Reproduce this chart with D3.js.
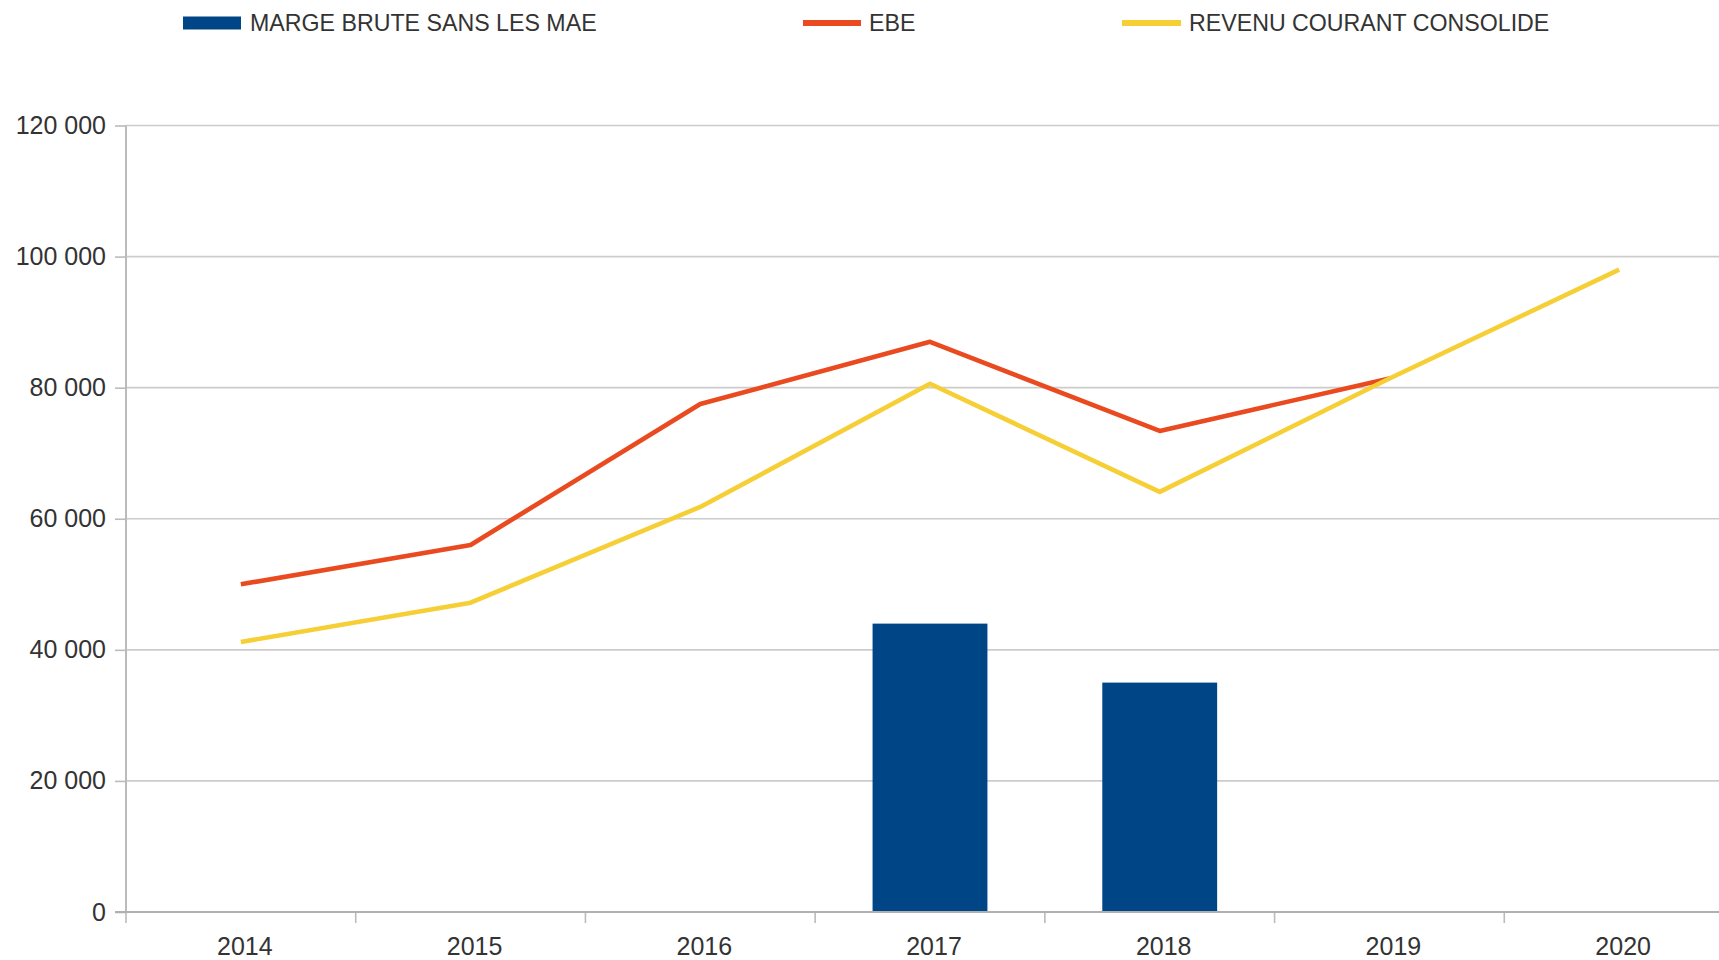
<!DOCTYPE html>
<html>
<head>
<meta charset="utf-8">
<script src="https://cdn.jsdelivr.net/npm/d3@7"></script>
<style>
  html, body { margin: 0; padding: 0; background: #fff; overflow: hidden; }
  svg { display: block; font-family: "Liberation Sans", Arial, sans-serif; }
</style>
</head>
<body>
<svg id="chart" width="1719" height="960"></svg>
<script>
const categories = ["2014", "2015", "2016", "2017", "2018", "2019", "2020"];
const margeBrute = [null, null, null, 44000, 35000, null, null];
const ebe = [50000, 56000, 77500, 87000, 73400, 81400, null];
const revenuCourant = [41200, 47200, 61800, 80600, 64100, 81400, 98000];
const yTickValues = [0, 20000, 40000, 60000, 80000, 100000, 120000];
const seriesNames = ["MARGE BRUTE SANS LES MAE", "EBE", "REVENU COURANT CONSOLIDE"];
const seriesColors = ["#004586", "#e94a1f", "#f5cf35"];

(function () {
const W = 1719, H = 960;
const plotLeft = 126, plotRight = 1734, plotTop = 125.5, plotBottom = 912;
const svg = d3.select("#chart");

const x = d3.scaleBand().domain(categories).range([plotLeft, plotRight]).paddingInner(0.5).paddingOuter(0.25);
const y = d3.scaleLinear().domain([0, 120000]).range([plotBottom, plotTop]);

// gridlines
svg.append("g").selectAll("line").data(yTickValues.filter(d => d !== 0)).join("line")
  .attr("x1", plotLeft).attr("x2", W)
  .attr("y1", d => y(d)).attr("y2", d => y(d))
  .attr("stroke", "#cccccc").attr("stroke-width", 1.6);

// y axis
const fmt = d => d3.format(",")(d).replace(/,/g, " ");
const yAxis = svg.append("g").attr("transform", `translate(${plotLeft},0)`)
  .call(d3.axisLeft(y).tickValues(yTickValues).tickFormat(fmt).tickSize(11).tickPadding(9));
yAxis.select(".domain").remove();
yAxis.selectAll(".tick line").attr("stroke", "#bbbbbb").attr("stroke-width", 1.6);
yAxis.selectAll(".tick text").attr("fill", "#333").style("font-size", "25px");
svg.append("line").attr("x1", plotLeft).attr("x2", plotLeft).attr("y1", y(120000)).attr("y2", plotBottom + 1)
  .attr("stroke", "#bbbbbb").attr("stroke-width", 2);

// bars
const barData = categories.map((c, i) => ({c, v: margeBrute[i]})).filter(d => d.v != null);
svg.append("g").selectAll("rect").data(barData).join("rect")
  .attr("x", d => x(d.c)).attr("width", x.bandwidth())
  .attr("y", d => y(d.v)).attr("height", d => y(0) - y(d.v))
  .attr("fill", seriesColors[0]);

// x axis
const xAxis = svg.append("g").attr("transform", `translate(0,${plotBottom})`)
  .call(d3.axisBottom(x).tickSize(0).tickPadding(25));
xAxis.select(".domain").remove();
xAxis.selectAll(".tick text").attr("fill", "#333").attr("dx", 4).style("font-size", "25px");
const gap = (x.step() - x.bandwidth()) / 2;
const boundaries = categories.map(c => x(c) - gap).concat([x(categories[categories.length - 1]) + x.bandwidth() + gap]);
svg.append("g").selectAll("line").data(boundaries).join("line")
  .attr("x1", d => d).attr("x2", d => d).attr("y1", plotBottom).attr("y2", plotBottom + 11)
  .attr("stroke", "#bbbbbb").attr("stroke-width", 1.6);
svg.append("line").attr("x1", plotLeft - 11).attr("x2", W).attr("y1", plotBottom).attr("y2", plotBottom)
  .attr("stroke", "#b0b0b0").attr("stroke-width", 2.2);

// lines
const line = d3.line()
  .defined(d => d.v != null)
  .x(d => x(d.c) + x.bandwidth() / 2)
  .y(d => y(d.v));
[[ebe, seriesColors[1]], [revenuCourant, seriesColors[2]]].forEach(([vals, col]) => {
  svg.append("path")
    .datum(categories.map((c, i) => ({c, v: vals[i]})))
    .attr("d", line)
    .attr("fill", "none").attr("stroke", col).attr("stroke-width", 4.6)
    .attr("stroke-linejoin", "round").attr("stroke-linecap", "butt");
});

// legend
const legendY = 23;
const legendItems = [
  {name: seriesNames[0], color: seriesColors[0], type: "rect", x0: 183, x1: 241, tx: 250},
  {name: seriesNames[1], color: seriesColors[1], type: "line", x0: 803, x1: 861, tx: 869},
  {name: seriesNames[2], color: seriesColors[2], type: "line", x0: 1122, x1: 1181, tx: 1189}
];
const lg = svg.append("g");
legendItems.forEach(it => {
  if (it.type === "rect") {
    lg.append("rect").attr("x", it.x0).attr("y", legendY - 6.5).attr("width", it.x1 - it.x0).attr("height", 13)
      .attr("fill", it.color);
  } else {
    lg.append("line").attr("x1", it.x0).attr("x2", it.x1).attr("y1", legendY).attr("y2", legendY)
      .attr("stroke", it.color).attr("stroke-width", 6);
  }
  lg.append("text").attr("x", it.tx).attr("y", legendY).attr("dy", "0.36em")
    .attr("fill", "#333").style("font-size", "23.2px").text(it.name);
});
})();
</script>
</body>
</html>
